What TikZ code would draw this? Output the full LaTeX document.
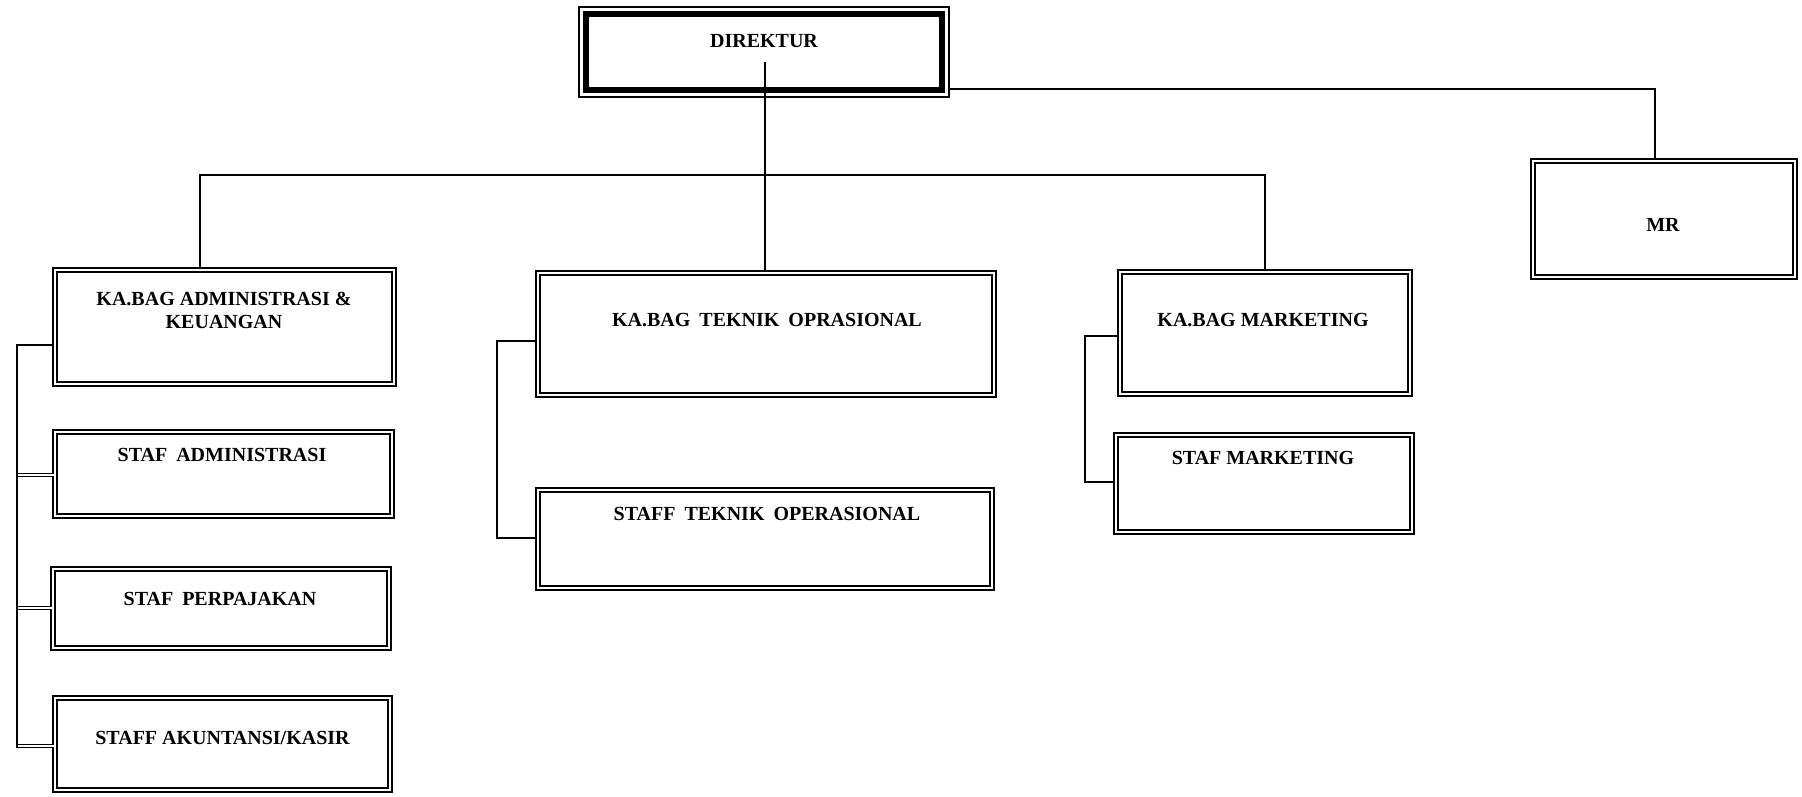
\documentclass[tikz,border=0pt]{standalone}
\usepackage{fontspec}
\setmainfont{Liberation Serif}
\usetikzlibrary{calc}
\newcommand\wgap{\hspace{0.45em}}
\begin{document}
\begin{tikzpicture}[x=1pt,y=-1pt,
  orgbox/.style n args={2}{draw, line width=2pt, double=white, double distance=1.8pt,
    inner sep=0pt, minimum width=#1, minimum height=#2},
  lbl/.style={font=\fontsize{20}{23}\selectfont\bfseries, inner sep=0pt, anchor=base},
  conn/.style={line width=1.5pt},
  dconn/.style={line width=1.5pt, double=white, double distance=1.5pt}]
\useasboundingbox[fill=white] (0,0) rectangle (1802,796);

% Direktur
\node[draw, line width=1.2pt, inner sep=0pt, minimum width=370pt, minimum height=90pt] (dir) at (764,52) {};
\node[draw, line width=6pt, inner sep=0pt, minimum width=356pt, minimum height=76pt] (dirin) at (dir.center) {};
\node[lbl] (tdir) at (764,47) {DIREKTUR};

% Boxes
\node[orgbox={339pt}{114pt}] (adm) at (224.5,327) {};
\node[orgbox={337pt}{84pt}] (sadm) at (223.5,474) {};
\node[orgbox={336pt}{79pt}] (perp) at (221,608.5) {};
\node[orgbox={335pt}{92pt}] (aku) at (222.5,744) {};
\node[orgbox={456pt}{122pt}] (tek) at (766,334) {};
\node[orgbox={454pt}{98pt}] (stek) at (765,539) {};
\node[orgbox={290pt}{122pt}] (mkt) at (1265,333) {};
\node[orgbox={296pt}{97pt}] (smkt) at (1264,483.5) {};
\node[orgbox={262pt}{116pt}] (mr) at (1664,219) {};

% Labels
\node[lbl, align=center, anchor=north] (tadm) at (224,292) {KA.BAG ADMINISTRASI \&\\KEUANGAN};
\node[lbl] (tsadm) at (222,461.6) {STAF\wgap ADMINISTRASI};
\node[lbl] (tperp) at (220,605.6) {STAF\wgap PERPAJAKAN};
\node[lbl] (taku) at (222.5,744.6) {STAFF AKUNTANSI/KASIR};
\node[lbl] (ttek) at (767,326.6) {KA.BAG\wgap TEKNIK\wgap OPRASIONAL};
\node[lbl] (tstek) at (767,520.6) {STAFF\wgap TEKNIK\wgap OPERASIONAL};
\node[lbl] (tmkt) at (1263,326.6) {KA.BAG MARKETING};
\node[lbl] (tsmkt) at (1263,464) {STAF MARKETING};
\node[lbl] (tmr) at (1663,231.6) {MR};

% Coordinates for connector corners
\coordinate (dv) at (765,62);
\coordinate (bl) at (200,175);
\coordinate (br) at (1265,175);
\coordinate (rc) at (1655,89);
\coordinate (lb0) at (17,345);
\coordinate (lb1) at (17,475);
\coordinate (lb2) at (17,608);
\coordinate (lb3) at (17,746);
\coordinate (tb0) at (497,341);
\coordinate (tb1) at (497,538);
\coordinate (mb0) at (1085,336);
\coordinate (mb1) at (1085,482);

% Top-level connectors
\draw[conn] (dv) -- (dv |- tek.north);
\draw[conn] (bl |- adm.north) -- (bl) -- (br) -- (br |- mkt.north);
\draw[conn] (dir.east |- rc) -- (rc) -- (rc |- mr.north);

% Left group
\draw[dconn] (lb1) -- (lb1 -| sadm.west);
\draw[dconn] (lb2) -- (lb2 -| perp.west);
\draw[dconn] (lb3) -- (lb3 -| aku.west);
\draw[conn] (adm.west |- lb0) -- (lb0) -- ([yshift=-2.2pt]lb3);

% Teknik group
\draw[conn] (tek.west |- tb0) -- (tb0) -- (tb1) -- (tb1 -| stek.west);

% Marketing group
\draw[conn] (mkt.west |- mb0) -- (mb0) -- (mb1) -- (mb1 -| smkt.west);
\end{tikzpicture}
\end{document}
